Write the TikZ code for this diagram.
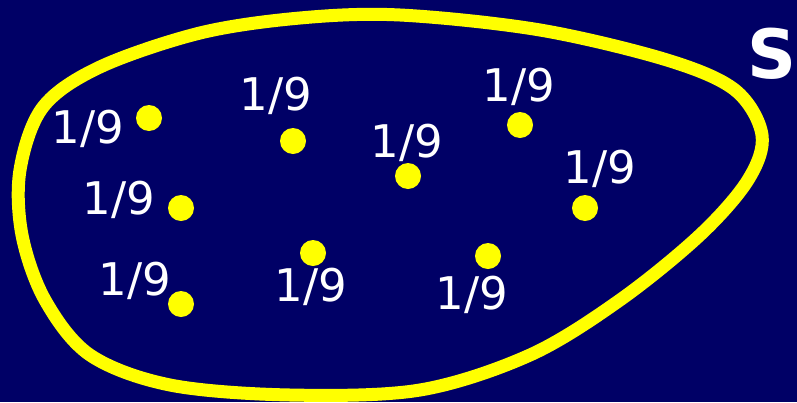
\documentclass[tikz,border=0pt]{standalone}
\usepackage{fontspec}
\setmainfont{DejaVu Sans}
\definecolor{navy}{RGB}{0,0,102}
\definecolor{setyellow}{RGB}{255,255,0}
\tikzset{
  prob/.style={text=white, font=\fontsize{45}{54}\selectfont, inner sep=0pt},
  elem/.style={circle, fill=setyellow, minimum size=26pt, inner sep=0pt},
  setname/.style={text=white, font=\fontsize{68}{76}\selectfont\bfseries, inner sep=0pt},
}
\begin{document}
\begin{tikzpicture}[x=1pt,y=-1pt]
\fill[navy] (0,0) rectangle (797,402);
\useasboundingbox (0,0) rectangle (797,402);
% the set S
\draw[setyellow, line width=13pt] plot[smooth cycle, tension=0.55] coordinates {
  (400,15) (540,30) (667,60) (735,90) (762,135) (748,180) (700,235)
  (620,300) (530,355) (420,390) (290,395) (170,385) (90,355) (45,300)
  (22,235) (20,170) (43,107) (100,67) (200,33) (300,18)};
\node[setname] (s) at (772,54) {S};
% nine points, each with weight 1/9
\node[elem] (e1) at (149,118) {};
\node[elem] (e2) at (293,141) {};
\node[elem] (e3) at (181,208) {};
\node[elem] (e4) at (181,304) {};
\node[elem] (e5) at (313,253) {};
\node[elem] (e6) at (408,176) {};
\node[elem] (e7) at (520,125) {};
\node[elem] (e8) at (585,208) {};
\node[elem] (e9) at (488,256) {};
\node[prob] (p1) at (88,129) {1/9};
\node[prob] (p2) at (276,96) {1/9};
\node[prob] (p3) at (119,200) {1/9};
\node[prob] (p4) at (135,281) {1/9};
\node[prob] (p5) at (311,287) {1/9};
\node[prob] (p6) at (407,143) {1/9};
\node[prob] (p7) at (519,87) {1/9};
\node[prob] (p8) at (600,169) {1/9};
\node[prob] (p9) at (472,295) {1/9};
\end{tikzpicture}
\end{document}
